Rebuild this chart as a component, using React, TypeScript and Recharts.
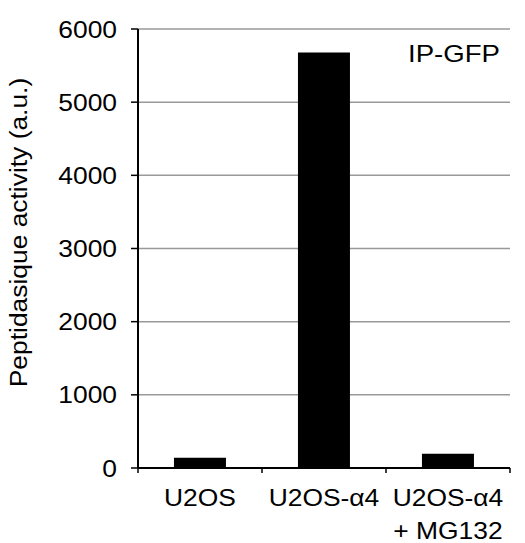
import React from "react";
import { BarChart, Bar, XAxis, YAxis, CartesianGrid } from "recharts";

const categories = ["U2OS", "U2OS-α4", "U2OS-α4\n+ MG132"];
const activity = [140, 5680, 195];
const yTicks = [0, 1000, 2000, 3000, 4000, 5000, 6000];

const data = categories.map((c, i) => ({ name: c, value: activity[i] }));

const FONT = "'Liberation Sans', Arial, Helvetica, sans-serif";
const FS = 24;
const SX = 1.1;
const X_TICK_SIZE = 6;
const X_TICK_MARGIN = 2;

const CatTick = (props: any) => {
  const { x, y, payload, width, visibleTicksCount, index } = props;
  const lines = String(payload.value).split("\n");
  const half =
    payload && typeof payload.offset === "number" && payload.offset > 0
      ? payload.offset
      : width / (2 * (visibleTicksCount || categories.length));
  const axisY = y - X_TICK_SIZE - X_TICK_MARGIN;
  const isLast = index === (visibleTicksCount || categories.length) - 1;
  return (
    <g>
      <line x1={x - half} x2={x - half} y1={axisY} y2={axisY + 5} stroke="#000" strokeWidth={1.5} />
      {isLast && (
        <line x1={x + half} x2={x + half} y1={axisY} y2={axisY + 5} stroke="#000" strokeWidth={1.5} />
      )}
      <g transform={`translate(${x},${y}) scale(${SX},1)`}>
        <text x={0} y={0} textAnchor="middle" fill="#000" fontSize={FS} fontFamily={FONT}>
          {lines.map((l: string, i: number) => (
            <tspan key={i} x={0} dy={i === 0 ? 30 : 33}>
              {l}
            </tspan>
          ))}
        </text>
      </g>
    </g>
  );
};

const YTick = (props: any) => {
  const { x, y, payload } = props;
  return (
    <g transform={`translate(${x},${y}) scale(${SX},1)`}>
      <text x={0} y={0} dy="0.355em" textAnchor="end" fill="#000" fontSize={FS} fontFamily={FONT}>
        {payload.value}
      </text>
    </g>
  );
};

export default function App() {
  return (
    <div style={{ position: "absolute", left: 0, top: 0, width: 525, height: 543, background: "#fff" }}>
      <BarChart
        width={525}
        height={543}
        data={data}
        margin={{ top: 29, right: 15, bottom: 0, left: 0 }}
        barCategoryGap="29%"
      >
        <CartesianGrid vertical={false} stroke="#999" strokeWidth={1.5} />
        <XAxis
          dataKey="name"
          tick={<CatTick />}
          tickLine={false}
          tickSize={X_TICK_SIZE}
          tickMargin={X_TICK_MARGIN}
          axisLine={{ stroke: "#000", strokeWidth: 2 }}
          height={75}
          interval={0}
        />
        <XAxis
          xAxisId="top"
          orientation="top"
          dataKey="name"
          tick={false}
          tickLine={false}
          axisLine={{ stroke: "#000", strokeWidth: 1.5 }}
          height={0}
        />
        <YAxis
          domain={[0, 6000]}
          ticks={yTicks}
          width={138}
          tickSize={7}
          tickMargin={14}
          axisLine={{ stroke: "#000", strokeWidth: 2 }}
          tickLine={{ stroke: "#000", strokeWidth: 1.5 }}
          tick={<YTick />}
        />
        <YAxis
          yAxisId="r"
          orientation="right"
          domain={[0, 6000]}
          tick={false}
          tickLine={false}
          width={0}
          axisLine={{ stroke: "#000", strokeWidth: 1.5 }}
        />
        <Bar dataKey="value" fill="#000" isAnimationActive={false} />
      </BarChart>
      <svg
        width={525}
        height={543}
        style={{ position: "absolute", left: 0, top: 0, pointerEvents: "none" }}
      >
        <g transform={`translate(27,232.5) rotate(-90) scale(${SX},1)`}>
          <text x={0} y={0} textAnchor="middle" fontSize={FS} fontFamily={FONT} fill="#000">
            Peptidasique activity (a.u.)
          </text>
        </g>
        <g transform={`translate(500,62) scale(1.15,1)`}>
          <text x={0} y={0} textAnchor="end" fontSize={FS} fontFamily={FONT} fill="#000">
            IP-GFP
          </text>
        </g>
      </svg>
    </div>
  );
}
